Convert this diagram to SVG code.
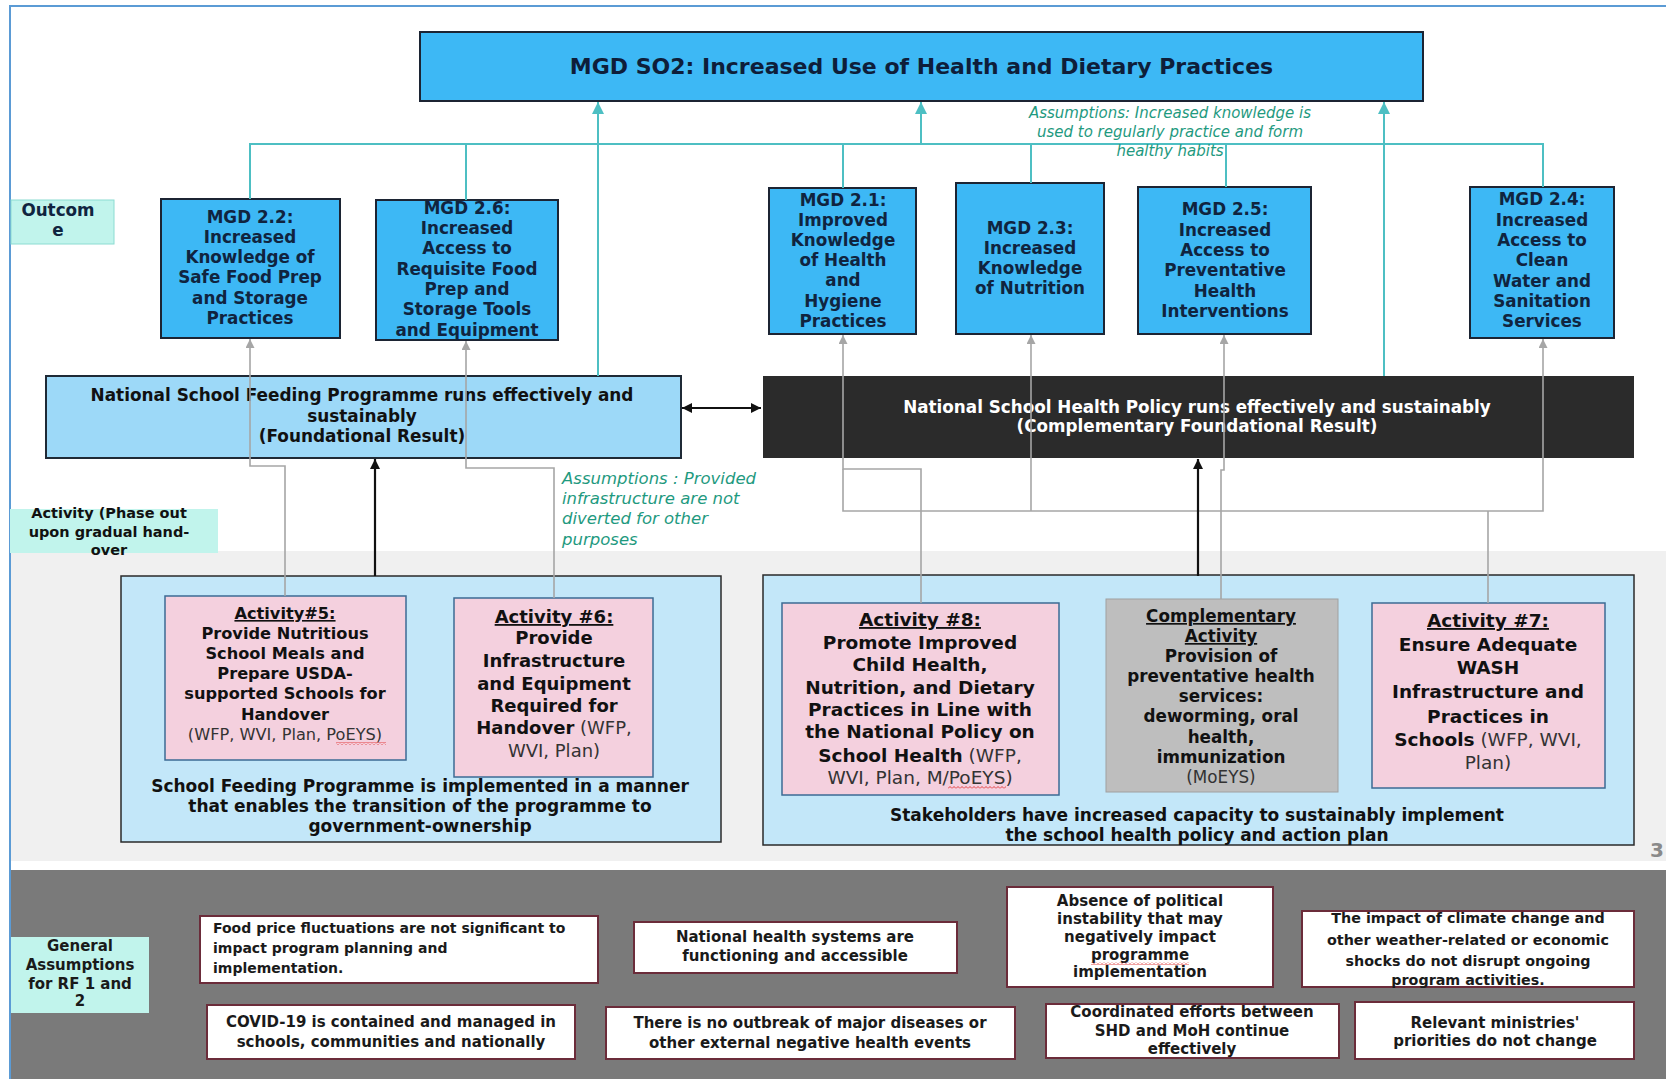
<svg xmlns="http://www.w3.org/2000/svg" width="1666" height="1079" viewBox="0 0 1666 1079">
<defs>
<style>
.t{font-family:"DejaVu Sans","Liberation Sans",sans-serif;font-weight:bold}
.c{text-anchor:middle}
.mgd{fill:#3db8f5;stroke:#1c2433;stroke-width:2}
.mt{font-size:16.8px;fill:#10243f}
.act{fill:#f4d0de;stroke:#3d6b94;stroke-width:1.5}
.grp{fill:#c3e7f9;stroke:#2a2a2a;stroke-width:1.5}
.lab{fill:#c1f4ec}
.asm{fill:#ffffff;stroke:#6b2c3a;stroke-width:2}
.at{font-size:15px;fill:#1a1a1a}
.ass{font-family:"DejaVu Sans","Liberation Sans",sans-serif;font-style:italic;fill:#1f9a7f}
.n{font-weight:normal}
.u{text-decoration:underline}
.teal{fill:none;stroke:#4dbfc3;stroke-width:2}
.grey{fill:none;stroke:#a6a6a6;stroke-width:1.6}
.blk{fill:none;stroke:#111;stroke-width:2.2}
.wave{fill:url(#wavePat)}
</style>
<pattern id="wavePat" x="0" y="0" width="4" height="3" patternUnits="userSpaceOnUse"><path d="M0,2.5 L2,0.5 L4,2.5" fill="none" stroke="#e03030" stroke-width="0.9"/></pattern>
<marker id="ahT" viewBox="0 0 10 10" refX="10" refY="5" markerWidth="13" markerHeight="12" markerUnits="userSpaceOnUse" orient="auto"><path d="M0,0 L10,5 L0,10 z" fill="#4dbfc3"/></marker>
<marker id="ahG" viewBox="0 0 10 10" refX="10" refY="5" markerWidth="10" markerHeight="9" markerUnits="userSpaceOnUse" orient="auto"><path d="M0,0 L10,5 L0,10 z" fill="#a6a6a6"/></marker>
<marker id="ahB" viewBox="0 0 10 10" refX="10" refY="5" markerWidth="11" markerHeight="10" markerUnits="userSpaceOnUse" orient="auto-start-reverse"><path d="M0,0 L10,5 L0,10 z" fill="#111"/></marker>
</defs>
<rect x="0" y="0" width="1666" height="1079" fill="#ffffff"/>
<!-- bands -->
<rect x="11" y="551" width="1655" height="310" fill="#f0f0f0"/>
<rect x="11" y="870" width="1655" height="209" fill="#7a7a7a"/>
<path d="M10,1079 V6 H1666" fill="none" stroke="#5b9bd5" stroke-width="2"/>

<g id="title">
<rect x="420" y="32" width="1003" height="69" class="mgd"/>
<text x="921.5" y="73.5" class="t c" font-size="22" fill="#0e1e3a">MGD SO2: Increased Use of Health and Dietary Practices</text>
</g>

<g id="label-outcome">
<rect x="11" y="200" width="103" height="44" class="lab" stroke="#8cdcd2" stroke-width="1"/>
<text class="t c mt" fill="#111"><tspan x="58" y="216">Outcom</tspan><tspan x="58" y="236">e</tspan></text>
</g>

<g id="mgd22">
<rect x="161" y="199" width="179" height="139" class="mgd"/>
<text class="t c mt"><tspan x="250" y="223">MGD 2.2:</tspan><tspan x="250" y="243">Increased</tspan><tspan x="250" y="263">Knowledge of</tspan><tspan x="250" y="283">Safe Food Prep</tspan><tspan x="250" y="304">and Storage</tspan><tspan x="250" y="324">Practices</tspan></text>
</g>
<g id="mgd26">
<rect x="376" y="200" width="182" height="140" class="mgd"/>
<text class="t c mt"><tspan x="467" y="214">MGD 2.6:</tspan><tspan x="467" y="234">Increased</tspan><tspan x="467" y="254">Access to</tspan><tspan x="467" y="275">Requisite Food</tspan><tspan x="467" y="295">Prep and</tspan><tspan x="467" y="315">Storage Tools</tspan><tspan x="467" y="336">and Equipment</tspan></text>
</g>
<g id="mgd21">
<rect x="769" y="188" width="147" height="146" class="mgd"/>
<text class="t c mt"><tspan x="843" y="206">MGD 2.1:</tspan><tspan x="843" y="226">Improved</tspan><tspan x="843" y="246">Knowledge</tspan><tspan x="843" y="266">of Health</tspan><tspan x="843" y="286">and</tspan><tspan x="843" y="307">Hygiene</tspan><tspan x="843" y="327">Practices</tspan></text>
</g>
<g id="mgd23">
<rect x="956" y="183" width="148" height="151" class="mgd"/>
<text class="t c mt"><tspan x="1030" y="234">MGD 2.3:</tspan><tspan x="1030" y="254">Increased</tspan><tspan x="1030" y="274">Knowledge</tspan><tspan x="1030" y="294">of Nutrition</tspan></text>
</g>
<g id="mgd25">
<rect x="1138" y="187" width="173" height="147" class="mgd"/>
<text class="t c mt"><tspan x="1225" y="215">MGD 2.5:</tspan><tspan x="1225" y="236">Increased</tspan><tspan x="1225" y="256">Access to</tspan><tspan x="1225" y="276">Preventative</tspan><tspan x="1225" y="297">Health</tspan><tspan x="1225" y="317">Interventions</tspan></text>
</g>
<g id="mgd24">
<rect x="1470" y="187" width="144" height="151" class="mgd"/>
<text class="t c mt"><tspan x="1542" y="205">MGD 2.4:</tspan><tspan x="1542" y="226">Increased</tspan><tspan x="1542" y="246">Access to</tspan><tspan x="1542" y="266">Clean</tspan><tspan x="1542" y="287">Water and</tspan><tspan x="1542" y="307">Sanitation</tspan><tspan x="1542" y="327">Services</tspan></text>
</g>

<g id="nsfp">
<rect x="46" y="376" width="635" height="82" fill="#9dd9f8" stroke="#1f2a36" stroke-width="2"/>
<text class="t c" font-size="16.9" fill="#111"><tspan x="362" y="401">National School Feeding Programme runs effectively and</tspan><tspan x="362" y="422">sustainably</tspan><tspan x="362" y="442">(Foundational Result)</tspan></text>
</g>
<g id="nshp">
<rect x="763" y="376" width="871" height="82" fill="#2b2b2b"/>
<text class="t c" font-size="16.8" fill="#ffffff"><tspan x="1197" y="413">National School Health Policy runs effectively and sustainably</tspan><tspan x="1197" y="432">(Complementary Foundational Result)</tspan></text>
</g>

<g id="label-activity">
<rect x="10" y="509" width="208" height="44" class="lab"/>
<text class="t c" font-size="14.5" fill="#111"><tspan x="109" y="518">Activity (Phase out</tspan><tspan x="109" y="537">upon gradual hand-</tspan><tspan x="109" y="555">over</tspan></text>
</g>

<g id="group-feeding">
<rect x="121" y="576" width="600" height="266" class="grp"/>
<text class="t c" font-size="17" fill="#111"><tspan x="420" y="792">School Feeding Programme is implemented in a manner</tspan><tspan x="420" y="812">that enables the transition of the programme to</tspan><tspan x="420" y="832">government-ownership</tspan></text>
</g>
<g id="act5">
<rect x="165" y="596" width="241" height="164" class="act"/>
<text class="t c" font-size="16.2" fill="#111"><tspan x="285" y="619" class="u">Activity#5:</tspan><tspan x="285" y="639">Provide Nutritious</tspan><tspan x="285" y="659">School Meals and</tspan><tspan x="285" y="679">Prepare USDA-</tspan><tspan x="285" y="699">supported Schools for</tspan><tspan x="285" y="720">Handover</tspan><tspan x="285" y="740" class="n" fill="#333">(WFP, WVI, Plan, PoEYS)</tspan></text>
<rect x="336" y="742" width="50" height="3" class="wave"/>
</g>
<g id="act6">
<rect x="454" y="598" width="199" height="179" class="act"/>
<text class="t c" font-size="18" fill="#111"><tspan x="554" y="623" class="u">Activity #6:</tspan><tspan x="554" y="644">Provide</tspan><tspan x="554" y="667">Infrastructure</tspan><tspan x="554" y="690">and Equipment</tspan><tspan x="554" y="712">Required for</tspan><tspan x="554" y="734">Handover<tspan class="n" fill="#333"> (WFP,</tspan></tspan><tspan x="554" y="757" class="n" fill="#333">WVI, Plan)</tspan></text>
</g>

<g id="group-health">
<rect x="763" y="575" width="871" height="270" class="grp"/>
<text class="t c" font-size="17" fill="#111"><tspan x="1197" y="821">Stakeholders have increased capacity to sustainably implement</tspan><tspan x="1197" y="841">the school health policy and action plan</tspan></text>
</g>
<g id="act8">
<rect x="782" y="603" width="277" height="192" class="act"/>
<text class="t c" font-size="18.5" fill="#111"><tspan x="920" y="626" class="u">Activity #8:</tspan><tspan x="920" y="649">Promote Improved</tspan><tspan x="920" y="671">Child Health,</tspan><tspan x="920" y="694">Nutrition, and Dietary</tspan><tspan x="920" y="716">Practices in Line with</tspan><tspan x="920" y="738">the National Policy on</tspan><tspan x="920" y="762">School Health<tspan class="n" fill="#333"> (WFP,</tspan></tspan><tspan x="920" y="784" class="n" fill="#333">WVI, Plan, M/PoEYS)</tspan></text>
<rect x="948" y="786" width="58" height="3" class="wave"/>
</g>
<g id="comp">
<rect x="1106" y="599" width="232" height="193" fill="#bebebe" stroke="#a0a0a0" stroke-width="1"/>
<text class="t c" font-size="16.8" fill="#111"><tspan x="1221" y="622" class="u">Complementary</tspan><tspan x="1221" y="642" class="u">Activity</tspan><tspan x="1221" y="662">Provision of</tspan><tspan x="1221" y="682">preventative health</tspan><tspan x="1221" y="702">services:</tspan><tspan x="1221" y="722">deworming, oral</tspan><tspan x="1221" y="743">health,</tspan><tspan x="1221" y="763">immunization</tspan><tspan x="1221" y="783" class="n" fill="#333">(MoEYS)</tspan></text>
</g>
<g id="act7">
<rect x="1372" y="603" width="233" height="185" class="act"/>
<text class="t c" font-size="18.5" fill="#111"><tspan x="1488" y="627" class="u">Activity #7:</tspan><tspan x="1488" y="651">Ensure Adequate</tspan><tspan x="1488" y="674">WASH</tspan><tspan x="1488" y="698">Infrastructure and</tspan><tspan x="1488" y="723">Practices in</tspan><tspan x="1488" y="746">Schools<tspan class="n" fill="#333"> (WFP, WVI,</tspan></tspan><tspan x="1488" y="769" class="n" fill="#333">Plan)</tspan></text>
</g>

<text x="1657" y="857" class="t c" font-size="20" fill="#8a8a8a">3</text>

<g id="label-general">
<rect x="11" y="937" width="138" height="76" class="lab"/>
<text class="t c at"><tspan x="80" y="951">General</tspan><tspan x="80" y="970">Assumptions</tspan><tspan x="80" y="989">for RF 1 and</tspan><tspan x="80" y="1006">2</tspan></text>
</g>
<g id="asm-food">
<rect x="200" y="916" width="398" height="67" class="asm"/>
<text class="t at" style="font-size:14px"><tspan x="213" y="933">Food price fluctuations are not significant to</tspan><tspan x="213" y="953">impact program planning and</tspan><tspan x="213" y="973">implementation.</tspan></text>
</g>
<g id="asm-covid">
<rect x="207" y="1005" width="368" height="54" class="asm"/>
<text class="t c at"><tspan x="391" y="1027">COVID-19 is contained and managed in</tspan><tspan x="391" y="1047">schools, communities and nationally</tspan></text>
</g>
<g id="asm-health">
<rect x="634" y="922" width="323" height="51" class="asm"/>
<text class="t c at"><tspan x="795" y="942">National health systems are</tspan><tspan x="795" y="961">functioning and accessible</tspan></text>
</g>
<g id="asm-outbreak">
<rect x="606" y="1007" width="409" height="52" class="asm"/>
<text class="t c at"><tspan x="810" y="1028">There is no outbreak of major diseases or</tspan><tspan x="810" y="1048">other external negative health events</tspan></text>
</g>
<g id="asm-political">
<rect x="1007" y="887" width="266" height="100" class="asm"/>
<text class="t c at"><tspan x="1140" y="906">Absence of political</tspan><tspan x="1140" y="924">instability that may</tspan><tspan x="1140" y="942">negatively impact</tspan><tspan x="1140" y="960">programme</tspan><tspan x="1140" y="977">implementation</tspan></text>
<rect x="1091" y="962" width="98" height="3" class="wave"/>
</g>
<g id="asm-climate">
<rect x="1302" y="911" width="332" height="76" class="asm"/>
<text class="t c at" style="font-size:14.3px"><tspan x="1468" y="923">The impact of climate change and</tspan><tspan x="1468" y="945">other weather-related or economic</tspan><tspan x="1468" y="966">shocks do not disrupt ongoing</tspan><tspan x="1468" y="985">program activities.</tspan></text>
</g>
<g id="asm-coord">
<rect x="1046" y="1004" width="293" height="54" class="asm"/>
<text class="t c at"><tspan x="1192" y="1017">Coordinated efforts between</tspan><tspan x="1192" y="1036">SHD and MoH continue</tspan><tspan x="1192" y="1054">effectively</tspan></text>
</g>
<g id="asm-ministries">
<rect x="1355" y="1002" width="279" height="57" class="asm"/>
<text class="t c at"><tspan x="1495" y="1028">Relevant ministries'</tspan><tspan x="1495" y="1046">priorities do not change</tspan></text>
</g>

<g id="connectors">
<path class="teal" d="M250,199 V144 H1543 V187 M466,200 V144 M843,188 V144 M1031,183 V144 M1226,187 V144"/>
<path class="teal" d="M921,144 V102" stroke-width="3.5" marker-end="url(#ahT)"/>
<path class="teal" d="M598,376 V102" marker-end="url(#ahT)"/>
<path class="teal" d="M1384,376 V102" marker-end="url(#ahT)"/>
<path class="grey" d="M285,596 V466 H250 V339" marker-end="url(#ahG)"/>
<path class="grey" d="M554,598 V468 H466 V341" marker-end="url(#ahG)"/>
<path class="grey" d="M921,603 V469 H843 V335" marker-end="url(#ahG)"/>
<path class="grey" d="M843,469 V511 H1543 V339" marker-end="url(#ahG)"/>
<path class="grey" d="M1031,511 V335" marker-end="url(#ahG)"/>
<path class="grey" d="M1488,603 V511"/>
<path class="grey" d="M1221,599 V470 H1224 V335" marker-end="url(#ahG)"/>
<path class="blk" d="M375,576 V459" marker-end="url(#ahB)"/>
<path class="blk" d="M1198,576 V459" marker-end="url(#ahB)"/>
<path class="blk" d="M682,408 H761" marker-start="url(#ahB)" marker-end="url(#ahB)"/>
</g>

<text class="ass c" font-size="15"><tspan x="1170" y="118">Assumptions: Increased knowledge is</tspan><tspan x="1170" y="137">used to regularly practice and form</tspan><tspan x="1170" y="156">healthy habits</tspan></text>
<text class="ass" font-size="16.5"><tspan x="562" y="484">Assumptions : Provided</tspan><tspan x="562" y="504">infrastructure are not</tspan><tspan x="562" y="524">diverted for other</tspan><tspan x="562" y="545">purposes</tspan></text>
</svg>
